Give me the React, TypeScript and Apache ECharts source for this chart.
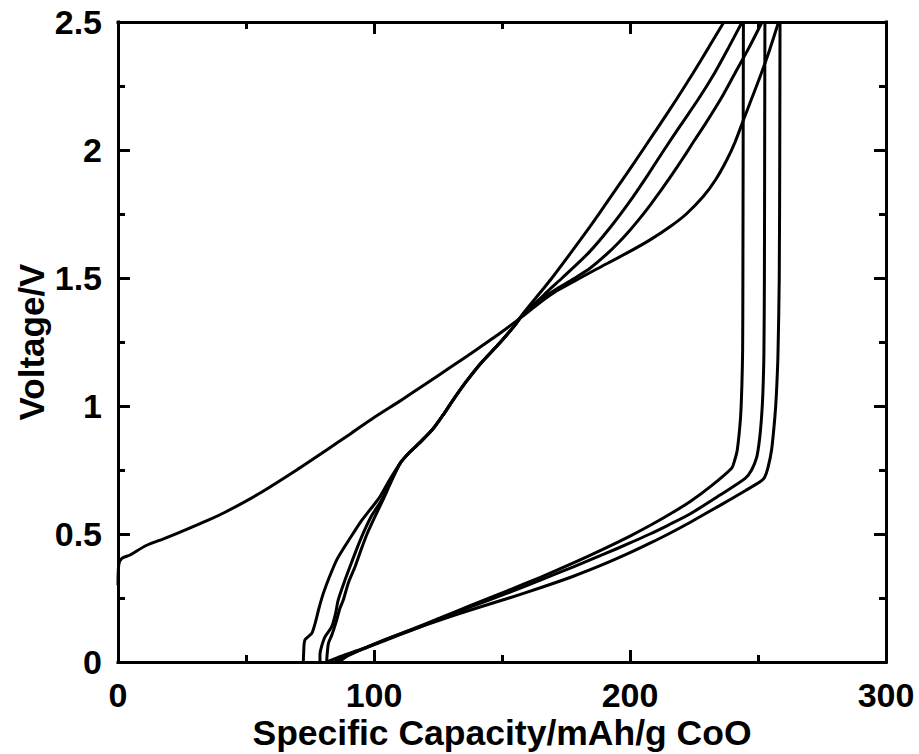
import React, { useEffect, useRef } from "react";
import * as echarts from "echarts";

// Tick settings (values)
const xMin = 0;
const xMax = 300;
const xStep = 100;
const yMin = 0;
const yMax = 2.5;
const yStep = 0.5;

const xTitle = "Specific Capacity/mAh/g CoO";
const yTitle = "Voltage/V";

// [capacity (mAh/g), voltage (V)]
const charge1: [number, number][] = [
  [0, 0.3], [0.3, 0.38], [1.5, 0.405], [4.7, 0.418], [11, 0.455], [18, 0.482], [26.8, 0.518],
  [35, 0.553], [42.4, 0.588], [55.5, 0.66], [69.8, 0.75], [81.5, 0.828], [90.6, 0.89],
  [100, 0.955], [110.2, 1.02], [120, 1.085], [129.7, 1.15], [140, 1.22], [149.2, 1.284],
  [158, 1.35], [165, 1.405], [171.4, 1.45], [180.5, 1.5], [187, 1.535], [198.7, 1.597],
  [208, 1.65], [215.6, 1.7], [222, 1.75], [228.6, 1.818], [233.5, 1.885], [237.8, 1.961],
  [241, 2.03], [244.3, 2.117], [247.5, 2.2], [250.8, 2.286], [254.5, 2.39], [257.9, 2.495],
  [258.1, 2.5],
];

const discharge1: [number, number][] = [
  [258.6, 2.5], [258.5, 2.0], [258.3, 1.5], [257.8, 1.2], [257.2, 1.05], [256.6, 0.958],
  [255.3, 0.828], [253.8, 0.755], [252.5, 0.72], [250.8, 0.704], [245, 0.669], [235, 0.611],
  [223.4, 0.545], [215, 0.5], [207.8, 0.464], [200, 0.427], [190, 0.383], [177.9, 0.335],
  [165, 0.29], [151.8, 0.247], [138, 0.204], [125.8, 0.164], [115.4, 0.128], [105, 0.09],
  [95, 0.048], [89, 0.02], [86.5, 0],
];

const charge2: [number, number][] = [
  [81.5, 0], [81.7, 0.03], [82.2, 0.073], [83.5, 0.105], [85, 0.15], [86.7, 0.21], [88, 0.242],
  [90, 0.31], [92.6, 0.372], [95, 0.44], [97.4, 0.503], [100, 0.56], [103.5, 0.633],
  [106.5, 0.7], [110.2, 0.776], [114, 0.82], [118, 0.858], [123, 0.91], [127, 0.965],
  [131, 1.025], [136, 1.095], [142, 1.17], [149, 1.245], [155, 1.315], [158, 1.355],
  [164, 1.41], [171, 1.455], [178, 1.497], [184, 1.535], [190, 1.585], [195.2, 1.635],
  [199.8, 1.685], [204, 1.735], [207.9, 1.785], [211.6, 1.835], [215.1, 1.885],
  [218.5, 1.935], [221.8, 1.985], [225, 2.035], [229.3, 2.1], [235.5, 2.2], [241, 2.3],
  [246.5, 2.4], [251.6, 2.5],
];

const discharge2: [number, number][] = [
  [252.7, 2.5], [252.6, 2.0], [252.5, 1.5], [252.3, 1.2], [251.9, 1.05], [251.4, 0.958],
  [250.6, 0.87], [249.5, 0.8], [247.5, 0.75], [245, 0.717], [235, 0.651], [223.4, 0.578],
  [215, 0.535], [207.8, 0.5], [200, 0.465], [190, 0.422], [177.9, 0.372], [165, 0.32],
  [151.8, 0.268], [138, 0.216], [125.8, 0.168], [115.4, 0.127], [105, 0.087], [95, 0.048],
  [88, 0.018], [84.5, 0],
];

const charge3: [number, number][] = [
  [78.9, 0], [78.9, 0.03], [79.5, 0.06], [80.9, 0.099], [83.5, 0.138], [85, 0.19], [86, 0.242],
  [88.3, 0.31], [90.6, 0.372], [93.2, 0.44], [95.8, 0.503], [99, 0.57], [103, 0.633],
  [106.3, 0.7], [110.2, 0.776], [114, 0.82], [118, 0.858], [123, 0.91], [127, 0.965],
  [131, 1.025], [136, 1.095], [142, 1.17], [149, 1.245], [155, 1.315], [158, 1.355],
  [163, 1.4], [168, 1.45], [173.5, 1.5], [184, 1.6], [192.5, 1.7], [200, 1.8], [206.8, 1.9],
  [213.3, 2.0], [220, 2.1], [226.8, 2.2], [233, 2.3], [238.5, 2.4], [243.8, 2.5],
];

const discharge3: [number, number][] = [
  [244.3, 2.5], [244.2, 2.0], [244.1, 1.5], [244, 1.219], [243.7, 1.08], [243.2, 0.958],
  [241.9, 0.828], [240.8, 0.785], [239.7, 0.757], [232, 0.69], [223.4, 0.626], [215, 0.574],
  [207.8, 0.533], [200, 0.492], [190, 0.443], [177.9, 0.387], [165, 0.331], [151.8, 0.277],
  [138, 0.222], [125.8, 0.172], [115.4, 0.13], [105, 0.089], [95, 0.05], [86, 0.018],
  [81.5, 0],
];

const charge4: [number, number][] = [
  [72.4, 0], [72.5, 0.03], [73, 0.086], [75.7, 0.112], [77, 0.151], [78.5, 0.21], [80.2, 0.268],
  [82.5, 0.33], [85.4, 0.398], [88.5, 0.45], [91.9, 0.503], [95, 0.55], [98.4, 0.594],
  [102.3, 0.645], [106, 0.71], [110.2, 0.776], [114, 0.82], [118, 0.858], [123, 0.91],
  [127, 0.965], [131, 1.025], [136, 1.095], [142, 1.17], [149, 1.245], [155, 1.315],
  [158, 1.358], [165.5, 1.45], [169.5, 1.5], [177, 1.6], [184.3, 1.7], [191.3, 1.8],
  [198.2, 1.9], [205, 2.0], [211.7, 2.1], [218.3, 2.2], [224.6, 2.3], [230.7, 2.4],
  [236.7, 2.5],
];

const curves = [charge1, discharge1, charge2, discharge2, charge3, discharge3, charge4];

const FONT = "'Liberation Sans', Arial, Helvetica, sans-serif";

export default function App() {
  const ref = useRef<HTMLDivElement>(null);

  useEffect(() => {
    if (!ref.current) return;
    const chart = echarts.init(ref.current, undefined, { renderer: "svg" });

    const axisLine = { show: true, onZero: false, lineStyle: { color: "#000", width: 3, cap: "square" } };
    const axisTick = { show: true, inside: true, length: 12, lineStyle: { color: "#000", width: 3 } };
    const minorTick = { show: true, splitNumber: 2, length: 7, lineStyle: { color: "#000", width: 3 } };
    const label = {
      color: "#000",
      fontSize: 34,
      fontWeight: "bold",
      fontFamily: FONT,
    };

    const option: any = {
      animation: false,
      backgroundColor: "#fff",
      grid: { left: 118, right: 33, top: 22, bottom: 92, containLabel: false },
      xAxis: [
        {
          type: "value",
          position: "bottom",
          min: xMin,
          max: xMax,
          interval: xStep,
          axisLine,
          axisTick,
          minorTick,
          splitLine: { show: false },
          axisLabel: { ...label, margin: 16 },
        },
        {
          type: "value",
          position: "top",
          min: xMin,
          max: xMax,
          interval: xStep,
          axisLine,
          axisTick,
          minorTick,
          splitLine: { show: false },
          axisLabel: { show: false },
        },
      ],
      yAxis: [
        {
          type: "value",
          position: "left",
          min: yMin,
          max: yMax,
          interval: yStep,
          axisLine,
          axisTick,
          minorTick,
          splitLine: { show: false },
          axisLabel: { ...label, margin: 16 },
        },
        {
          type: "value",
          position: "right",
          min: yMin,
          max: yMax,
          interval: yStep,
          axisLine,
          axisTick,
          minorTick,
          splitLine: { show: false },
          axisLabel: { show: false },
        },
      ],
      graphic: [
        {
          type: "text",
          x: 502,
          y: 733,
          style: {
            text: xTitle,
            fill: "#000",
            font: `bold 35.5px ${FONT}`,
            align: "center",
            verticalAlign: "middle",
          },
        },
        {
          type: "text",
          x: 31,
          y: 342,
          rotation: Math.PI / 2,
          style: {
            text: yTitle,
            fill: "#000",
            font: `bold 35px ${FONT}`,
            align: "center",
            verticalAlign: "middle",
          },
        },
      ],
      series: curves.map((d) => ({
        type: "line",
        data: d,
        xAxisIndex: 0,
        yAxisIndex: 0,
        showSymbol: false,
        symbol: "none",
        smooth: 0.25,
        clip: true,
        lineStyle: { color: "#000", width: 3 },
        emphasis: { disabled: true },
      })),
    };

    chart.setOption(option);
    return () => chart.dispose();
  }, []);

  return (
    <div
      ref={ref}
      style={{ position: "absolute", left: 0, top: 0, width: 919, height: 754, background: "#fff" }}
    />
  );
}
